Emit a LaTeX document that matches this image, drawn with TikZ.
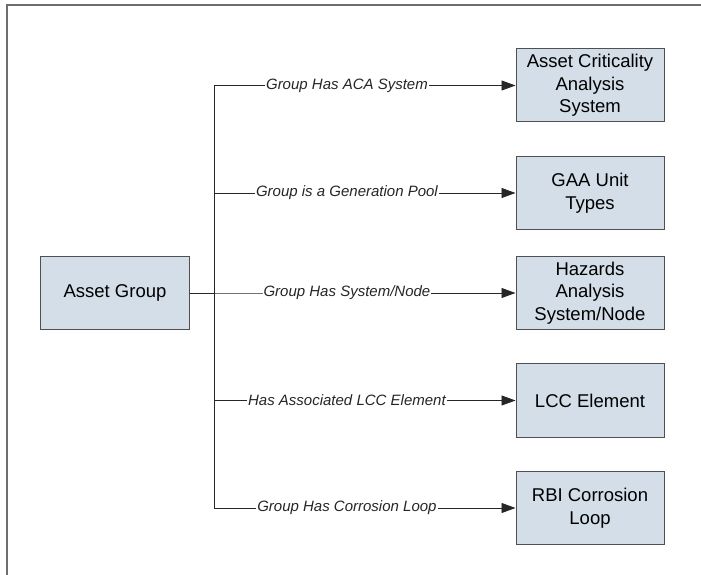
\documentclass[tikz,border=0pt]{standalone}
\usepackage{fontspec}
\setmainfont{Liberation Sans}
\usetikzlibrary{arrows.meta}
\definecolor{boxfill}{RGB}{211,222,232}
\definecolor{boxline}{RGB}{80,80,80}
\definecolor{framegray}{RGB}{110,110,110}
\tikzset{
    box/.style={draw=boxline, fill=boxfill, line width=1pt, minimum width=148pt, minimum height=73pt, align=center, font=\fontsize{18.5}{22.5}\selectfont},
    rel/.style={fill=white, inner sep=1pt, pos=0.72, font=\fontsize{15}{18}\selectfont\itshape},
}
\begin{document}
\begin{tikzpicture}[
            x=1pt, y=1pt,
            grow'=right,
            level distance=475pt,
            level 1/.style={sibling distance=107.5pt},
            edge from parent/.style={draw, black!85, line width=0.9pt, -{Triangle[length=14pt,width=10pt]}},
            edge from parent path={(\tikzparentnode.east) -- ++(25pt,0) |- (\tikzchildnode.west)},
        ]
            \useasboundingbox (-115,-282) rectangle (586,293);
            % frame, only left and top edges show
            \draw [framegray, line width=1.5pt] (-108,-282) |- (586,288);
            \node [box] (group) {Asset Group}
            child [yshift=-7.5pt] {
                node [box] (aca) {Asset Criticality\\Analysis\\System}
                edge from parent node [rel] {Group Has ACA System}
            }
            child [yshift=-7.5pt] {
                node [box] (gaa) {GAA Unit\\Types}
                edge from parent node [rel] {Group is a Generation Pool}
            }
            child {
                node [box] (hazards) {Hazards\\Analysis\\System/Node}
                edge from parent node [rel] {Group Has System/Node}
            }
            child {
                node [box] (lcc) {LCC Element}
                edge from parent node [rel] {Has Associated LCC Element}
            }
            child {
                node [box] (rbi) {RBI Corrosion\\Loop}
                edge from parent node [rel] {Group Has Corrosion Loop}
            };
        \end{tikzpicture}
\end{document}
